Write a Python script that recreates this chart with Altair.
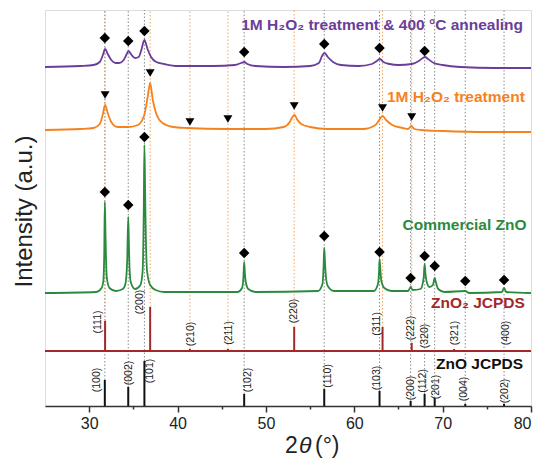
import altair as alt
import pandas as pd

# ---------------- measured curves (x = 2theta, y = stacked intensity, a.u.) ----------------
purple_x = [25, 29.0, 30.5, 31.2, 31.55, 31.8, 32.1, 32.5, 33.0, 33.4, 33.9, 34.2, 34.45, 34.8, 35.2,
            35.6, 35.9, 36.25, 36.6, 37.0, 37.6, 38.5, 40.0, 44.0, 46.5, 47.2, 47.55, 47.9, 48.8,
            52.0, 55.0, 56.0, 56.35, 56.65, 57.0, 57.6, 58.5, 60.5, 62.0, 62.55, 62.9, 63.3, 64.0,
            65.0, 66.5, 67.3, 67.75, 68.0, 68.35, 69.0, 70.0, 72.0, 76.0, 80.0]
purple_y = [339, 340, 341, 344, 351, 357, 352, 346, 343, 343, 346, 351, 355, 351, 348,
            349, 356, 366, 357, 349, 344, 342, 340, 340, 341, 343, 344, 342, 340,
            339, 340, 343, 350, 353, 349, 344, 341, 340, 342, 345, 347, 344, 342,
            341, 342, 345, 348, 349, 347, 343, 341, 339, 338, 338]

orange_x = [25, 29.0, 30.5, 31.2, 31.55, 31.8, 32.1, 32.5, 33.2, 34.5, 35.5, 36.2, 36.6, 36.9, 37.2,
            37.6, 38.3, 39.5, 41.0, 45.5, 50.0, 52.0, 52.7, 53.0, 53.25, 53.5, 54.0, 55.0, 57.0,
            61.0, 62.4, 62.9, 63.2, 63.6, 64.3, 65.5, 66.1, 66.45, 66.8, 67.5, 70.0, 75.0, 80.0]
orange_y = [276, 277, 278, 282, 292, 301, 293, 284, 279, 279, 281, 290, 308, 323, 306,
            292, 283, 279, 278, 277, 277, 279, 284, 289, 291, 287, 282, 279, 277,
            277, 281, 287, 290, 286, 281, 278, 277, 280, 277, 276, 275, 274, 274]

green_x = [25, 30.8, 31.4, 31.6, 31.7, 31.77, 31.85, 31.9, 32.0, 32.3, 33.0, 33.8, 34.1, 34.3, 34.42,
           34.5, 34.56, 34.7, 35.2, 35.8, 36.05, 36.17, 36.25, 36.33, 36.4, 36.55, 36.9, 37.5, 38.5,
           46.8, 47.3, 47.45, 47.54, 47.62, 47.72, 48.0, 48.8, 55.9, 56.4, 56.53, 56.6, 56.68, 56.78,
           57.0, 57.7, 62.2, 62.68, 62.8, 62.86, 62.94, 63.05, 63.4, 64.2, 66.1, 66.38, 66.6, 67.5,
           67.85, 67.96, 68.05, 68.2, 68.5, 68.9, 69.1, 69.2, 69.5, 70.2, 72.56, 73.0, 76.7, 76.95,
           77.2, 80.0]
green_y = [113, 114, 118, 125, 150, 204, 170, 150, 128, 118, 115, 117, 122, 145, 189,
           160, 140, 124, 117, 121, 135, 190, 261, 215, 175, 135, 121, 116, 114,
           114, 118, 128, 144, 133, 124, 117, 114, 115, 122, 140, 158, 145, 130,
           120, 115, 115, 122, 134, 147, 138, 126, 118, 115, 115, 119, 116, 117,
           128, 142, 133, 124, 119, 121, 128, 125, 117, 114, 115, 113, 114, 118,
           114, 113]

# ---------------- reference patterns ----------------
zno_pos = [31.77, 34.42, 36.25, 47.54, 56.60, 62.86, 66.38, 67.96, 69.10, 72.56, 76.95]
zno_top = [26, 19, 45, 12, 17, 15, 5, 12, 8, 2, 2]
zno_hkl = ["(100)", "(002)", "(101)", "(102)", "(110)", "(103)", "(200)", "(112)", "(201)", "(004)", "(202)"]
zno_lab_x = [30.89, 34.51, 36.88, 47.97, 57.03, 62.57, 66.42, 67.78, 69.25, 72.42, 77.06]
zno_lab_y = [26, 33, 35, 26, 30, 28, 18, 25, 19, 17, 15]

zno2_base = 55
zno2_pos = [31.80, 36.90, 41.40, 45.70, 53.20, 63.20, 66.50, 69.00, 71.30, 77.00]
zno2_top = [85, 99, 57, 57, 79, 79, 63, 56, 57, 56]
zno2_hkl = ["(111)", "(200)", "(210)", "(211)", "(220)", "(311)", "(222)", "(320)", "(321)", "(400)"]
zno2_lab_x = [31.0, 35.75, 41.52, 45.82, 53.18, 62.57, 66.42, 68.0, 71.4, 77.17]
zno2_lab_y = [84, 104, 72, 73, 95, 82, 78, 70, 73, 73]
zno2_guides = 7  # first seven ZnO2 reflections carry an orange guide line

# ---------------- peak markers ----------------
purple_mark_x = [31.77, 34.42, 36.25, 47.54, 56.60, 62.86, 67.96]
purple_mark_y = [368, 365, 375, 354, 362, 358, 355]
orange_mark_x = [31.80, 36.90, 41.40, 45.70, 53.20, 63.20, 66.50]
orange_mark_y = [311, 333, 284, 287, 300, 298, 289]
green_mark_x = zno_pos
green_mark_y = [214, 201, 269, 153, 170, 154, 128, 150, 140, 125, 126]

# ---------------- text labels ----------------
series_text = ["1M H\u2082O\u2082 treatment & 400 \u00b0C annealing", "1M H\u2082O\u2082 treatment",
               "Commercial ZnO", "ZnO\u2082 JCPDS", "ZnO JCPDS"]
series_text_x = [79.1, 79.3, 79.5, 79.3, 79.1]
series_text_y = [381, 309, 181, 103, 42]

PURPLE = "#6a3d9a"
ORANGE = "#f5821f"
GREEN = "#2b8a3e"
DARKRED = "#a3282b"
FONT = "Liberation Sans"

xscale = alt.Scale(domain=[25, 80], nice=False, zero=False)
yscale = alt.Scale(domain=[0, 396], nice=False, zero=False)

xaxis = alt.Axis(
    values=[30, 35, 40, 45, 50, 55, 60, 65, 70, 75, 80],
    labelExpr="datum.value % 10 === 0 ? datum.label : ''",
    tickSize={"condition": {"test": "datum.value % 10 === 0", "value": 6}, "value": 3},
    tickColor="#333333", tickWidth=1.5, domainColor="#333333", domainWidth=1.5,
    labelFont=FONT, labelFontSize=16, labelColor="#222222", labelPadding=3,
    labelOverlap=False, grid=False, title=None,
)


def X(field):
    return alt.X(field, type="quantitative", scale=xscale, axis=xaxis)


def Y(field):
    return alt.Y(field, type="quantitative", scale=yscale, axis=None)


zno_df = pd.DataFrame({"pos": zno_pos, "top": zno_top, "hkl": zno_hkl,
                       "lx": zno_lab_x, "ly": zno_lab_y, "base": [0] * len(zno_pos)})
zno2_df = pd.DataFrame({"pos": zno2_pos, "top": zno2_top, "hkl": zno2_hkl,
                        "lx": zno2_lab_x, "ly": zno2_lab_y, "base": [zno2_base] * len(zno2_pos)})

# guide lines
gray_guides = alt.Chart(zno_df).mark_rule(color="#8a8a8a", strokeDash=[1.5, 2], strokeWidth=1).encode(
    x=X("pos"), y=Y("top"), y2=alt.value(0))
orange_guides = alt.Chart(zno2_df.iloc[:zno2_guides]).mark_rule(
    color="#f6a35c", strokeDash=[1.5, 2], strokeWidth=1).encode(
    x=X("pos"), y=Y("top"), y2=alt.value(0))

# reference sticks
zno_sticks = alt.Chart(zno_df).mark_rule(color="#111111", strokeWidth=2).encode(
    x=X("pos"), y=Y("base"), y2="top:Q")
zno2_sticks = alt.Chart(zno2_df).mark_rule(color=DARKRED, strokeWidth=2).encode(
    x=X("pos"), y=Y("base"), y2="top:Q")
zno2_baseline = alt.Chart(pd.DataFrame({"x1": [25], "x2": [80], "b": [zno2_base]})).mark_rule(
    color=DARKRED, strokeWidth=2).encode(x=X("x1"), x2="x2:Q", y=Y("b"))


def curve(xs, ys, color):
    return alt.Chart(pd.DataFrame({"x": xs, "y": ys})).mark_line(
        color=color, strokeWidth=1.8, interpolate="monotone").encode(x=X("x"), y=Y("y"))


purple_line = curve(purple_x, purple_y, PURPLE)
orange_line = curve(orange_x, orange_y, ORANGE)
green_line = curve(green_x, green_y, GREEN)


def markers(xs, ys, shape, size):
    return alt.Chart(pd.DataFrame({"x": xs, "y": ys})).mark_point(
        shape=shape, size=size, filled=True, color="#000000", opacity=1).encode(x=X("x"), y=Y("y"))


m1 = markers(purple_mark_x, purple_mark_y, "diamond", 110)
m2 = markers(orange_mark_x, orange_mark_y, "triangle-down", 80)
m3 = markers(green_mark_x, green_mark_y, "diamond", 110)

zno_labels = alt.Chart(zno_df).mark_text(angle=270, font=FONT, fontSize=10.5, color="#222222",
                                         baseline="middle", align="center").encode(
    x=X("lx"), y=Y("ly"), text="hkl:N")
zno2_labels = alt.Chart(zno2_df).mark_text(angle=270, font=FONT, fontSize=10.5, color="#222222",
                                           baseline="middle", align="center").encode(
    x=X("lx"), y=Y("ly"), text="hkl:N")

text_df = pd.DataFrame({"t": series_text, "x": series_text_x, "y": series_text_y,
                        "c": [PURPLE, ORANGE, GREEN, DARKRED, "#111111"]})
series_labels = alt.Chart(text_df).mark_text(font=FONT, fontSize=15.5, fontWeight="bold",
                                             align="right", baseline="middle").encode(
    x=X("x"), y=Y("y"), text="t:N", color=alt.Color("c:N", scale=None))

# axis titles
ytitle = alt.Chart(pd.DataFrame({"t": ["Intensity (a.u.)"]})).mark_text(
    angle=270, font=FONT, fontSize=24, color="#222222", align="center", baseline="middle").encode(
    x=alt.value(-20.5), y=alt.value(201.5), text="t:N")
xt1 = alt.Chart(pd.DataFrame({"t": ["2"]})).mark_text(
    font=FONT, fontSize=23, color="#222222", align="left", baseline="middle").encode(
    x=alt.value(240), y=alt.value(436), text="t:N")
xt2 = alt.Chart(pd.DataFrame({"t": ["\u03b8"]})).mark_text(
    font=FONT, fontSize=23, fontStyle="italic", color="#222222", align="left", baseline="middle").encode(
    x=alt.value(254), y=alt.value(436), text="t:N")
xt3 = alt.Chart(pd.DataFrame({"t": ["(\u00b0)"]})).mark_text(
    font=FONT, fontSize=23, color="#222222", align="left", baseline="middle").encode(
    x=alt.value(270), y=alt.value(436), text="t:N")

chart = alt.layer(
    gray_guides, orange_guides, zno2_baseline, zno_sticks, zno2_sticks,
    purple_line, orange_line, green_line, m1, m2, m3,
    zno_labels, zno2_labels, series_labels, ytitle, xt1, xt2, xt3,
).properties(
    width=486, height=396,
    autosize=alt.AutoSizeParams(type="none"),
    padding={"left": 45, "top": 10, "right": 8, "bottom": 52},
).configure_view(stroke="#333333", strokeWidth=1.5).configure(background="white")

chart.save("out.html", embed_options={"renderer": "svg", "actions": False})
